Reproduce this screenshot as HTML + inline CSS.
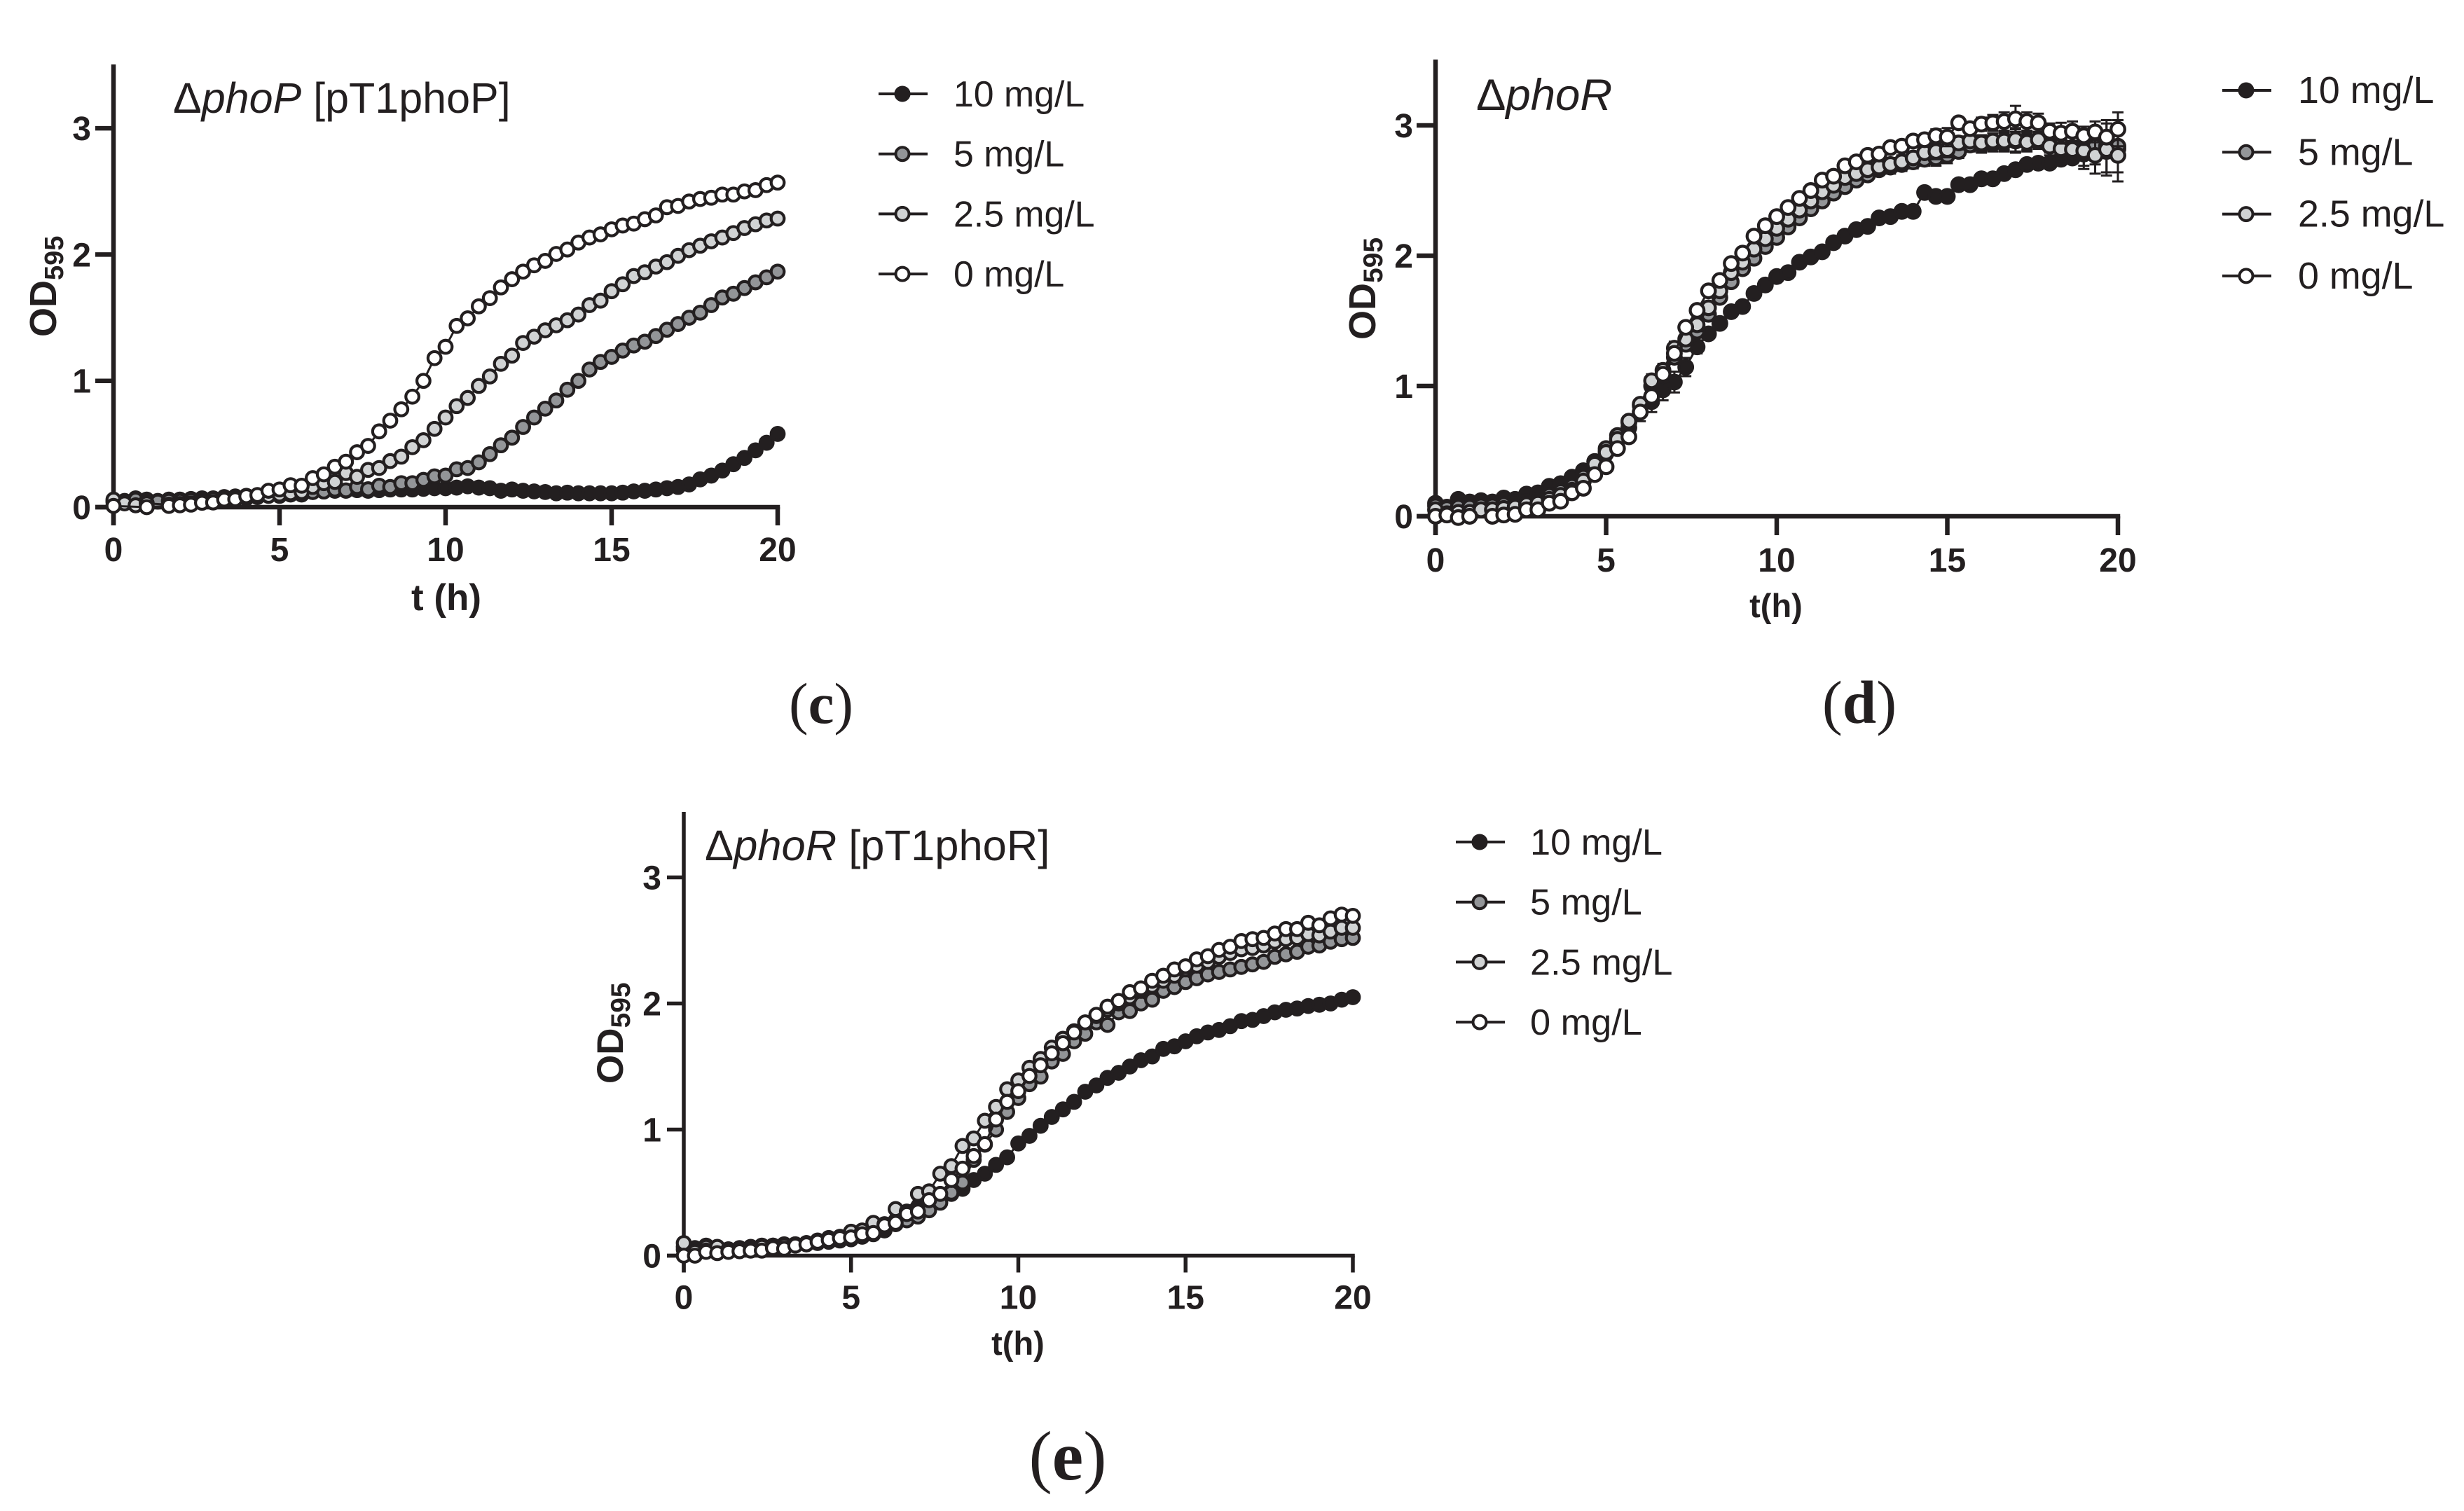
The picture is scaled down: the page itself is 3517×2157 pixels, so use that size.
<!DOCTYPE html>
<html lang="en">
<head>
<meta charset="utf-8">
<title>OD595 growth curves</title>
<style>
  html,body{margin:0;padding:0;background:#fff;}
  svg{display:block;}
  text{font-family:"Liberation Sans",sans-serif;fill:#231f20;}
  .serif{font-family:"Liberation Serif",serif;}
  .bold{font-weight:bold;}
</style>
</head>
<body>
<svg id="figure" xmlns="http://www.w3.org/2000/svg" width="3517" height="2157" viewBox="0 0 3517 2157">
  <rect width="3517" height="2157" fill="#fff"/>

  <g id="panel-c"></g>
  <g id="panel-d"></g>
  <g id="panel-e"></g>

  <!-- Panel titles -->
  <text x="247" y="161" font-size="61">Δ<tspan font-style="italic">phoP</tspan> [pT1phoP]</text>
  <text x="2107" y="157" font-size="63.5">Δ<tspan font-style="italic">phoR</tspan></text>
  <text x="1006" y="1228" font-size="61.5">Δ<tspan font-style="italic">phoR</tspan> [pT1phoR]</text>

  <!-- Y axis titles -->
  <text transform="translate(80,481) rotate(-90)" font-size="54" class="bold">OD<tspan font-size="38" dy="10">595</tspan></text>
  <text transform="translate(1963,485) rotate(-90)" font-size="54" class="bold">OD<tspan font-size="39" dy="10">595</tspan></text>
  <text transform="translate(889,1547) rotate(-90)" font-size="53" class="bold">OD<tspan font-size="39" dy="10">595</tspan></text>

  <!-- X axis titles -->
  <text x="637" y="871" font-size="53" class="bold" text-anchor="middle">t (h)</text>
  <text x="2535" y="881" font-size="47" class="bold" text-anchor="middle">t(h)</text>
  <text x="1453" y="1934" font-size="47" class="bold" text-anchor="middle">t(h)</text>

  <!-- Panel captions -->
  <text x="1172" y="1032" font-size="83" class="serif" text-anchor="middle">(<tspan font-weight="bold">c</tspan>)</text>
  <text x="2654" y="1032" font-size="87" class="serif" text-anchor="middle">(<tspan font-weight="bold">d</tspan>)</text>
  <text x="1524" y="2112" font-size="100" class="serif" text-anchor="middle">(<tspan font-weight="bold">e</tspan>)</text>
</svg>

<script>
// ---------- Shared axis data ----------
const xTicks = [0, 5, 10, 15, 20];
const yTicks = [0, 1, 2, 3];
const hoursPerPoint = 1 / 3;
const legendLabels = ['10 mg/L', '5 mg/L', '2.5 mg/L', '0 mg/L'];

// ---------- Panel c: delta-phoP [pT1phoP] ----------
const cSeries10 = [.04,.05,.07,.06,.05,.06,.06,.065,.07,.07,.08,.085,.09,.09,.1,.1,.11,.115,.12,.125,.13,.13,.135,.13,.135,.14,.14,.14,.145,.15,.15,.155,.165,.155,.15,.13,.14,.13,.125,.12,.11,.115,.11,.11,.11,.11,.115,.125,.13,.14,.15,.16,.18,.22,.25,.29,.34,.39,.45,.51,.58];
const cSeries5 = [.05,.04,.06,.05,.044,.05,.05,.055,.06,.065,.07,.07,.08,.085,.09,.09,.1,.1,.12,.124,.14,.133,.16,.142,.17,.16,.19,.19,.216,.244,.25,.3,.31,.355,.42,.49,.55,.635,.71,.78,.845,.93,1,1.09,1.15,1.19,1.24,1.28,1.31,1.355,1.405,1.45,1.5,1.54,1.6,1.66,1.69,1.735,1.78,1.82,1.865];
const cSeries25 = [.06,.03,.015,.03,null,.02,.025,.03,.04,.04,.05,.06,.07,.08,.09,.1,.11,.12,.16,.19,.2,.27,.24,.295,.31,.365,.4,.475,.53,.62,.71,.8,.865,.96,1.035,1.135,1.2,1.3,1.35,1.4,1.44,1.48,1.525,1.6,1.635,1.71,1.765,1.83,1.86,1.905,1.94,1.99,2.035,2.07,2.105,2.135,2.17,2.21,2.24,2.27,2.285];
const cSeries0 = [.01,null,null,0,null,.01,.015,.02,.035,.037,.06,.063,.087,.096,.13,.14,.174,.17,.23,.26,.32,.36,.435,.485,.6,.685,.775,.875,1,1.18,1.27,1.435,1.495,1.59,1.655,1.74,1.805,1.865,1.915,1.95,2.005,2.04,2.095,2.135,2.16,2.2,2.23,2.245,2.28,2.31,2.375,2.385,2.42,2.44,2.45,2.475,2.475,2.5,2.51,2.55,2.57];

// ---------- Panel d: delta-phoR ----------
const dSeries10 = [.1,.07,.13,.11,.12,.11,.14,.13,.17,.18,.23,.25,.3,.35,.42,.5,.6,.68,.8,.88,.97,1.03,1.145,1.3,1.4,1.48,1.57,1.61,1.71,1.775,1.84,1.87,1.95,1.99,2.03,2.1,2.15,2.2,2.225,2.29,2.3,2.34,2.34,2.485,2.455,2.455,2.545,2.545,2.59,2.59,2.63,2.66,2.7,2.71,2.71,2.74,2.75,2.78,2.8,2.8,2.82];
const dSeries5 = [.08,.06,.07,.07,.08,.08,.09,.09,.11,.12,.16,.19,.23,.3,.42,.52,.62,.72,.85,1,1.08,1.22,1.32,1.42,1.55,1.68,1.8,1.9,1.98,2.07,2.14,2.22,2.29,2.36,2.42,2.48,2.53,2.58,2.62,2.66,2.68,2.7,2.72,2.74,2.75,2.77,2.8,2.85,2.85,2.86,2.87,2.88,2.88,2.88,2.86,2.85,2.83,2.83,2.84,2.84,2.84];
const dSeries25 = [.05,.02,.03,.03,.05,.05,.06,.07,.09,.1,.13,.16,.2,.27,.4,.49,.59,.73,.86,1.04,1.12,1.29,1.36,1.47,1.6,1.73,1.87,1.95,2.05,2.13,2.21,2.28,2.35,2.42,2.49,2.54,2.6,2.63,2.66,2.68,2.7,2.72,2.75,2.79,2.8,2.815,2.865,2.88,2.865,2.88,2.88,2.89,2.87,2.89,2.84,2.82,2.815,2.805,2.77,2.815,2.77];
const dSeries0 = [0,.01,-.01,0,null,0,.01,.015,.05,.05,.1,.115,.18,.215,.32,.38,.52,.61,.8,.92,1.09,1.25,1.45,1.58,1.73,1.81,1.94,2.02,2.15,2.23,2.3,2.37,2.44,2.5,2.58,2.61,2.69,2.72,2.77,2.78,2.83,2.84,2.88,2.89,2.92,2.91,3.02,2.975,3.01,3.02,3.03,3.05,3.03,3.02,2.955,2.94,2.955,2.92,2.95,2.91,2.97];
const dError10 = [0,0,0,0,0,0,0,0,0,0,.01,.01,.01,.02,.02,.03,.04,.05,.07,.08,.08,.08,.07,.05,.03,.02,.02,.02,.02,.02,.02,.02,.02,.02,.02,.02,.02,.02,.02,.02,.03,.03,.03,.02,.02,.02,.03,.03,.02,.02,.02,.02,.02,.02,.03,.03,.03,.03,.03,.03,.03];
const dError25 = [0,0,0,0,0,0,0,0,0,0,.01,.01,.01,.02,.02,.02,.03,.04,.04,.05,.05,.05,.05,.05,.05,.04,.04,.04,.04,.04,.04,.04,.04,.04,.04,.04,.04,.04,.04,.04,.05,.05,.05,.05,.06,.06,.05,.05,.06,.06,.07,.09,.07,.06,.07,.1,.1,.14,.14,.2,.2];
const dError0 = [0,0,0,0,0,0,0,0,0,0,.01,.01,.01,.02,.02,.02,.03,.04,.04,.04,.04,.04,.04,.04,.04,.04,.04,.04,.04,.04,.04,.04,.04,.04,.04,.04,.04,.04,.04,.04,.04,.04,.04,.04,.05,.07,.03,.04,.05,.06,.07,.1,.07,.07,.06,.08,.075,.07,.08,.04,.13];

// ---------- Panel e: delta-phoR [pT1phoR] ----------
const eSeries10 = [.05,.06,.08,.06,.05,.05,.06,.07,.07,.08,.08,.09,.1,.11,.12,.13,.15,.17,.2,.25,.32,.38,.42,.46,.49,.53,.6,.65,.72,.78,.89,.95,1.03,1.1,1.16,1.22,1.3,1.35,1.41,1.45,1.5,1.55,1.58,1.64,1.66,1.7,1.74,1.77,1.79,1.82,1.86,1.87,1.9,1.93,1.95,1.96,1.98,1.99,2,2.03,2.05];
const eSeries5 = [.07,.05,.07,.06,.05,.06,.07,.08,.08,.09,.09,.1,.11,.12,.14,.16,.17,.2,.22,.25,.28,.31,.36,.42,.5,.58,.76,.88,1,1.14,1.25,1.36,1.42,1.54,1.6,1.7,1.76,1.85,1.83,1.93,1.94,2,2.03,2.1,2.13,2.17,2.2,2.23,2.25,2.27,2.29,2.31,2.33,2.37,2.39,2.41,2.45,2.46,2.49,2.51,2.52];
const eSeries25 = [.1,.03,.04,.07,.05,.05,.06,.07,.08,.08,.09,.1,.12,.14,.15,.19,.2,.26,.25,.37,.35,.49,.51,.65,.71,.87,.93,1.07,1.18,1.32,1.39,1.49,1.56,1.65,1.72,1.78,1.85,1.9,1.95,2,2.05,2.1,2.14,2.18,2.22,2.27,2.3,2.33,2.37,2.4,2.43,2.44,2.46,2.49,2.51,2.52,2.55,2.54,2.57,2.6,2.6];
const eSeries0 = [0,0,.03,.02,.03,.035,.04,.04,.06,.055,.08,.09,.11,.125,.14,.145,.17,.18,.24,.26,.33,.35,.44,.49,.6,.69,.79,.885,1.08,1.22,1.305,1.425,1.51,1.605,1.685,1.77,1.85,1.91,1.975,2.02,2.09,2.12,2.18,2.22,2.27,2.295,2.35,2.375,2.425,2.45,2.495,2.51,2.52,2.555,2.59,2.59,2.64,2.62,2.675,2.705,2.695];

// ---------- Rendering ----------
const SVG_NS = 'http://www.w3.org/2000/svg';
const INK = '#231f20';
const FILLS = [INK, '#939598', '#d1d3d4', '#ffffff'];
const SLUGS = ['10-mg-l', '5-mg-l', '2-5-mg-l', '0-mg-l'];

function mk(parent, tag, attrs) {
  const el = document.createElementNS(SVG_NS, tag);
  for (const k in attrs) el.setAttribute(k, attrs[k]);
  parent.appendChild(el);
  return el;
}

function drawPanel(cfg) {
  const root = document.getElementById('panel-' + cfg.id);
  const xScale = t => cfg.x0 + (t / 20) * (cfg.x20 - cfg.x0);
  const yScale = v => cfg.y0 - v * cfg.yUnit;

  // Series (10 first, 0 on top)
  cfg.series.forEach((values, s) => {
    const group = mk(root, 'g', {});
    
    

    const pts = [];
    values.forEach((v, i) => { if (v !== null) pts.push([xScale(i * hoursPerPoint), yScale(v), v, i]); });

    const errs = cfg.errors && cfg.errors[s];
    if (errs) {
      pts.forEach(p => {
        const e = errs[p[3]];
        if (!e) return;
        const bar = mk(group, 'path', {
          d: 'M' + p[0] + ' ' + yScale(p[2] - e) + 'V' + yScale(p[2] + e) +
             'M' + (p[0] - 8) + ' ' + yScale(p[2] + e) + 'h16' +
             'M' + (p[0] - 8) + ' ' + yScale(p[2] - e) + 'h16',
          fill: 'none', stroke: INK, 'stroke-width': 3
        });
        
        
      });
    }

    const line = mk(group, 'polyline', {
      points: pts.map(p => p[0] + ',' + p[1]).join(' '),
      fill: 'none', stroke: INK, 'stroke-width': 3
    });
    
    

    pts.forEach(p => {
      const dot = mk(group, 'circle', {
        cx: p[0], cy: p[1], r: cfg.markerR,
        fill: FILLS[s], stroke: INK, 'stroke-width': cfg.markerStroke
      });
      
      
    });
  });

  // Axes are drawn beneath the markers in the reference
  const axes = document.createElementNS(SVG_NS, 'g');
  root.insertBefore(axes, root.firstChild);
  
  

  const yAxis = mk(axes, 'line', {
    x1: cfg.x0, x2: cfg.x0, y1: cfg.axisTop, y2: cfg.y0 + cfg.tickLen,
    stroke: INK, 'stroke-width': cfg.axisW
  });
  
  

  const xAxis = mk(axes, 'line', {
    x1: cfg.x0 - cfg.tickLen, x2: cfg.x20 + cfg.axisW / 2, y1: cfg.y0, y2: cfg.y0,
    stroke: INK, 'stroke-width': cfg.axisW
  });
  
  

  xTicks.forEach(t => {
    const tick = mk(axes, 'line', {
      x1: xScale(t), x2: xScale(t), y1: cfg.y0, y2: cfg.y0 + cfg.tickLen,
      stroke: INK, 'stroke-width': cfg.axisW
    });
    
    
    const label = mk(axes, 'text', {
      x: xScale(t), y: cfg.y0 + cfg.xLabelDy, 'font-size': 48,
      'font-weight': 'bold', 'text-anchor': 'middle'
    });
    label.textContent = t;
    
    
  });

  yTicks.forEach(v => {
    const tick = mk(axes, 'line', {
      x1: cfg.x0 - cfg.tickLen, x2: cfg.x0, y1: yScale(v), y2: yScale(v),
      stroke: INK, 'stroke-width': cfg.axisW
    });
    
    
    const label = mk(axes, 'text', {
      x: cfg.x0 - 32, y: yScale(v) + 17, 'font-size': 48,
      'font-weight': 'bold', 'text-anchor': 'end'
    });
    label.textContent = v;
    
    
  });

  // Legend
  const legend = mk(root, 'g', {});
  
  
  legendLabels.forEach((text, i) => {
    const y = cfg.legY + i * cfg.legStep;
    const entry = mk(legend, 'g', {});
    
    
    const l = mk(entry, 'line', {
      x1: cfg.legX, x2: cfg.legX + 70, y1: y, y2: y, stroke: INK, 'stroke-width': 4
    });
    
    
    const c = mk(entry, 'circle', {
      cx: cfg.legX + 34, cy: y, r: 9.5, fill: FILLS[i], stroke: INK, 'stroke-width': 4
    });
    
    
    const t = mk(entry, 'text', {
      x: cfg.legX + cfg.legTextDx, y: y + 18, 'font-size': cfg.legFont
    });
    t.textContent = text;
    
    
  });
}

drawPanel({
  id: 'c', x0: 162, x20: 1110, y0: 724, yUnit: 180.3, axisTop: 92, tickLen: 26, axisW: 6.5,
  xLabelDy: 77, markerR: 9.3, markerStroke: 4.2,
  legX: 1254, legY: 134, legStep: 85.7, legTextDx: 107, legFont: 51.8,
  series: [cSeries10, cSeries5, cSeries25, cSeries0]
});
drawPanel({
  id: 'd', x0: 2049, x20: 3023, y0: 737, yUnit: 186, axisTop: 85, tickLen: 27, axisW: 6.5,
  xLabelDy: 79, markerR: 9.8, markerStroke: 4.3,
  legX: 3172, legY: 129, legStep: 88.3, legTextDx: 108, legFont: 53.8,
  series: [dSeries10, dSeries5, dSeries25, dSeries0],
  errors: [dError10, dError25, dError25, dError0]
});
drawPanel({
  id: 'e', x0: 976, x20: 1931, y0: 1792.5, yUnit: 180, axisTop: 1159, tickLen: 24, axisW: 5.5,
  xLabelDy: 76, markerR: 9.3, markerStroke: 4.2,
  legX: 2078, legY: 1202, legStep: 85.7, legTextDx: 106, legFont: 52.3,
  series: [eSeries10, eSeries5, eSeries25, eSeries0]
});
</script>
</body>
</html>
